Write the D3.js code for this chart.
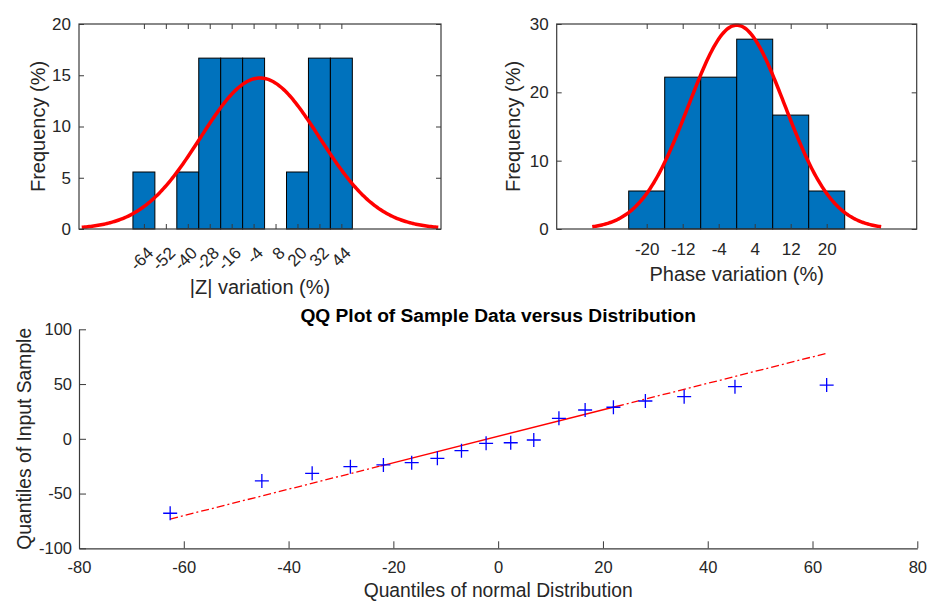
<!DOCTYPE html>
<html>
<head>
<meta charset="utf-8">
<script src="https://cdn.jsdelivr.net/npm/d3@7"></script>
<style>
  body { margin: 0; background: #fff; }
  svg { display: block; font-family: "Liberation Sans", Arial, Helvetica, sans-serif; }
  .tick text { fill: #262626; font-size: 17px; }
  .qq .tick text { font-size: 16.5px; }
  .tick line { stroke: #3a3a3a; stroke-width: 1; }
  .domain { stroke: #3a3a3a; stroke-width: 1.2; }
  .lbl { fill: #262626; font-size: 20px; }
  .qq .lbl { font-size: 19.3px; }
</style>
</head>
<body>
<svg width="931" height="601"></svg>
<script>
// |Z| variation histogram
let zBins = [-64, -52, -40, -28, -16, -4, 8, 20, 32, 44]
let zFreq = [5.56, 0, 5.56, 16.67, 16.67, 16.67, 0, 5.56, 16.67, 16.67]
let zBinWidth = 12
let zFitMean = -0.5
let zFitSd = 32.5
let zYTicks = [0, 5, 10, 15, 20]

// phase variation histogram
let phaseBins = [-20, -12, -4, 4, 12, 20]
let phaseFreq = [5.56, 22.22, 22.22, 27.78, 16.67, 5.56]
let phaseBinWidth = 8
let phaseFitMean = 0
let phaseFitSd = 10.7
let phaseYTicks = [0, 10, 20, 30]

// QQ plot
let qqX = [-62.6, -45.1, -35.5, -28.2, -21.9, -16.5, -11.6, -7.0, -2.3, 2.4, 6.8, 11.6, 16.6, 22.0, 28.1, 35.5, 45.2, 62.7]
let qqY = [-68, -38.5, -31.5, -25.5, -23.9, -21.8, -17.8, -10.8, -4.1, -3.6, -1.1, 18.7, 26.3, 28.8, 34.5, 38.5, 47.6, 49.1]
let qqLineX = [-62.6, -22.5, 22.5, 62.7]
let qqLineY = [-73.3, -24.9, 29.5, 78.1]
let qqXTicks = [-80, -60, -40, -20, 0, 20, 40, 60, 80]
let qqYTicks = [-100, -50, 0, 50, 100]

let svg = d3.select('svg')

// plain hyphen minus like the original
let fmt = (d) => String(d)

let normPdf = (x, m, s) => Math.exp(-0.5 * ((x - m) / s) ** 2) / (s * Math.sqrt(2 * Math.PI))

let drawHist = (opts) => {
  let { left, right, top, bottom, xDomain, yMax, bins, freq, binWidth, mean, sd, yTicks, xLabel, rotate, yLabelX } = opts

  let xScale = d3.scaleLinear().domain(xDomain).range([left, right])
  let yScale = d3.scaleLinear().domain([0, yMax]).range([bottom, top])

  let g = svg.append('g')

  g.selectAll('rect.bar')
   .data(bins)
   .enter()
   .append('rect')
   .attr('class', 'bar')
   .attr('x', (d) => xScale(d - binWidth / 2))
   .attr('width', (d) => xScale(d + binWidth / 2) - xScale(d - binWidth / 2))
   .attr('y', (d, i) => yScale(freq[i]))
   .attr('height', (d, i) => yScale(0) - yScale(freq[i]))
   .attr('fill', '#0072BD')
   .attr('stroke', '#000')
   .attr('stroke-width', 1)
   .style('display', (d, i) => freq[i] > 0 ? null : 'none')

  // fitted normal, scaled to percent per bin
  let xs = d3.range(mean - 3 * sd, mean + 3 * sd + 0.001, sd / 40)
  let line = d3.line()
               .x((d) => xScale(d))
               .y((d) => yScale(100 * binWidth * normPdf(d, mean, sd)))
  g.append('path')
   .datum(xs)
   .attr('d', line)
   .attr('fill', 'none')
   .attr('stroke', '#ff0000')
   .attr('stroke-width', 3.5)

  // box and axes
  let xAxis = d3.axisBottom(xScale).tickValues(bins).tickFormat(fmt).tickSizeInner(-5).tickSizeOuter(0).tickPadding(13.9)
  let xAxisTop = d3.axisTop(xScale).tickValues(bins).tickSizeInner(-5).tickSizeOuter(0).tickFormat('')
  let yAxis = d3.axisLeft(yScale).tickValues(yTicks).tickFormat(fmt).tickSizeInner(-5).tickSizeOuter(0).tickPadding(8)
  let yAxisRight = d3.axisRight(yScale).tickValues(yTicks).tickSizeInner(-5).tickSizeOuter(0).tickFormat('')

  let gx = g.append('g').attr('transform', `translate(0, ${bottom})`).call(xAxis)
  g.append('g').attr('transform', `translate(0, ${top})`).call(xAxisTop)
  g.append('g').attr('transform', `translate(${left}, 0)`).call(yAxis)
  g.append('g').attr('transform', `translate(${right}, 0)`).call(yAxisRight)
  g.selectAll('.domain').remove()
  g.append('rect')
   .attr('x', left).attr('y', top)
   .attr('width', right - left).attr('height', bottom - top)
   .attr('fill', 'none').attr('stroke', '#3a3a3a').attr('stroke-width', 1.2)

  if (rotate) {
    gx.selectAll('.tick text')
      .attr('y', null).attr('dy', null)
      .attr('text-anchor', 'end')
      .attr('transform', 'translate(10, 25) rotate(-45)')
  }

  g.append('text')
   .attr('class', 'lbl')
   .attr('x', (left + right) / 2)
   .attr('y', opts.xLabelY)
   .attr('text-anchor', 'middle')
   .text(xLabel)

  g.append('text')
   .attr('class', 'lbl')
   .attr('transform', `translate(${yLabelX}, ${(top + bottom) / 2}) rotate(-90)`)
   .attr('text-anchor', 'middle')
   .text('Frequency (%)')
}

drawHist({
  left: 79, right: 441, top: 24, bottom: 229,
  xDomain: [-99.5, 98.5], yMax: 20,
  bins: zBins, freq: zFreq, binWidth: zBinWidth,
  mean: zFitMean, sd: zFitSd, yTicks: zYTicks,
  xLabel: '|Z| variation (%)', xLabelY: 294, rotate: true, yLabelX: 44.5
})

drawHist({
  left: 556.7, right: 916.7, top: 24, bottom: 229,
  xDomain: [-40, 40], yMax: 30,
  bins: phaseBins, freq: phaseFreq, binWidth: phaseBinWidth,
  mean: phaseFitMean, sd: phaseFitSd, yTicks: phaseYTicks,
  xLabel: 'Phase variation (%)', xLabelY: 281, rotate: false, yLabelX: 519.5
})

// QQ plot
let qLeft = 79, qRight = 917.3, qTop = 329.3, qBottom = 548.3
let qx = d3.scaleLinear().domain([-80, 80]).range([qLeft, qRight])
let qy = d3.scaleLinear().domain([-100, 100]).range([qBottom, qTop])

let gq = svg.append('g').attr('class', 'qq')

gq.append('g')
  .attr('transform', `translate(0, ${qBottom})`)
  .call(d3.axisBottom(qx).tickValues(qqXTicks).tickFormat(fmt).tickSizeInner(-7).tickSizeOuter(0).tickPadding(13.3))
gq.append('g')
  .attr('transform', `translate(${qLeft}, 0)`)
  .call(d3.axisLeft(qy).tickValues(qqYTicks).tickFormat(fmt).tickSizeInner(-7).tickSizeOuter(0).tickPadding(7))

let qLine = d3.line().x((d) => qx(d[0])).y((d) => qy(d[1]))
let qPts = qqLineX.map((x, i) => [x, qqLineY[i]])

// dash-dot extension to the extremes, solid between the quartiles
gq.append('path')
  .datum([qPts[0], qPts[1]])
  .attr('d', qLine)
  .attr('fill', 'none').attr('stroke', '#ff0000').attr('stroke-width', 1.3)
  .attr('stroke-dasharray', '8,3,2,3')
gq.append('path')
  .datum([qPts[2], qPts[3]])
  .attr('d', qLine)
  .attr('fill', 'none').attr('stroke', '#ff0000').attr('stroke-width', 1.3)
  .attr('stroke-dasharray', '8,3,2,3')
gq.append('path')
  .datum([qPts[1], qPts[2]])
  .attr('d', qLine)
  .attr('fill', 'none').attr('stroke', '#ff0000').attr('stroke-width', 1.3)

gq.selectAll('path.mark')
  .data(qqX)
  .enter()
  .append('path')
  .attr('class', 'mark')
  .attr('d', (d, i) => {
    let cx = qx(d), cy = qy(qqY[i])
    return `M${cx - 7},${cy}H${cx + 7}M${cx},${cy - 7}V${cy + 7}`
  })
  .attr('stroke', '#0000ff')
  .attr('stroke-width', 1.3)
  .attr('fill', 'none')

gq.append('text')
  .attr('x', (qLeft + qRight) / 2)
  .attr('y', 322)
  .attr('text-anchor', 'middle')
  .attr('font-weight', 'bold')
  .attr('font-size', '19.2px')
  .attr('fill', '#000')
  .text('QQ Plot of Sample Data versus Distribution')

gq.append('text')
  .attr('class', 'lbl')
  .attr('x', (qLeft + qRight) / 2)
  .attr('y', 597)
  .attr('text-anchor', 'middle')
  .text('Quantiles of normal Distribution')

gq.append('text')
  .attr('class', 'lbl')
  .attr('transform', `translate(30.5, ${(qTop + qBottom) / 2}) rotate(-90)`)
  .attr('text-anchor', 'middle')
  .text('Quantiles of Input Sample')
</script>
</body>
</html>
